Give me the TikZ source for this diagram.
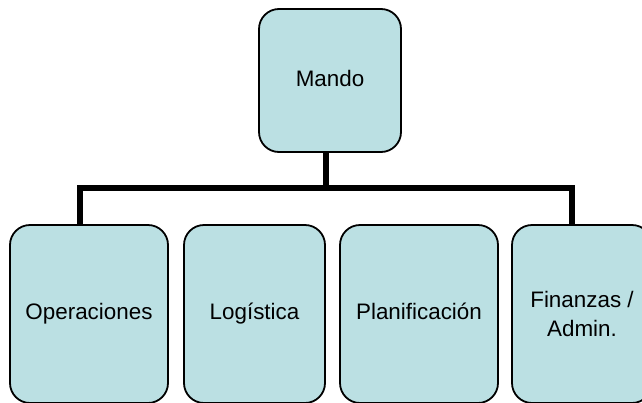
\documentclass[tikz,border=0pt]{standalone}
\usepackage{fontspec}
\setmainfont{Liberation Sans}
\definecolor{boxfill}{HTML}{BBE0E3}
\begin{document}
\begin{tikzpicture}[x=1pt,y=-1pt,
  box/.style={draw=black, line width=1.8pt, fill=boxfill, rounded corners=20pt,
    inner sep=0pt, align=center, font=\fontsize{22.4}{29}\selectfont},
  oneline/.style={text height=16pt, text depth=4.5pt},
  conn/.style={draw=black, line width=6pt, line join=miter}]
\useasboundingbox (0,0) rectangle (642,402);
\clip (0,0) rectangle (642,402);
\node[box, oneline, minimum width=142pt, minimum height=143pt] (mando) at (330,80.5) {Mando};
\node[box, oneline, minimum width=158pt, minimum height=178pt] (op) at (89,314) {Operaciones};
\node[box, oneline, minimum width=141pt, minimum height=178pt] (log) at (254.5,314) {Logística};
\node[box, oneline, minimum width=158pt, minimum height=178pt] (plan) at (419,314) {Planificación};
\node[box, minimum width=140pt, minimum height=178pt] (fin) at (582,314) {Finanzas /\\Admin.};
\coordinate (jm) at (326,188);
\coordinate (jl) at (80,188);
\coordinate (jr) at (572,188);
\draw[conn] (jm |- mando.south) -- ([yshift=3pt]jm);
\draw[conn] (jl |- op.north) -- (jl) -- (jr) -- (jr |- fin.north);
\end{tikzpicture}
\end{document}
